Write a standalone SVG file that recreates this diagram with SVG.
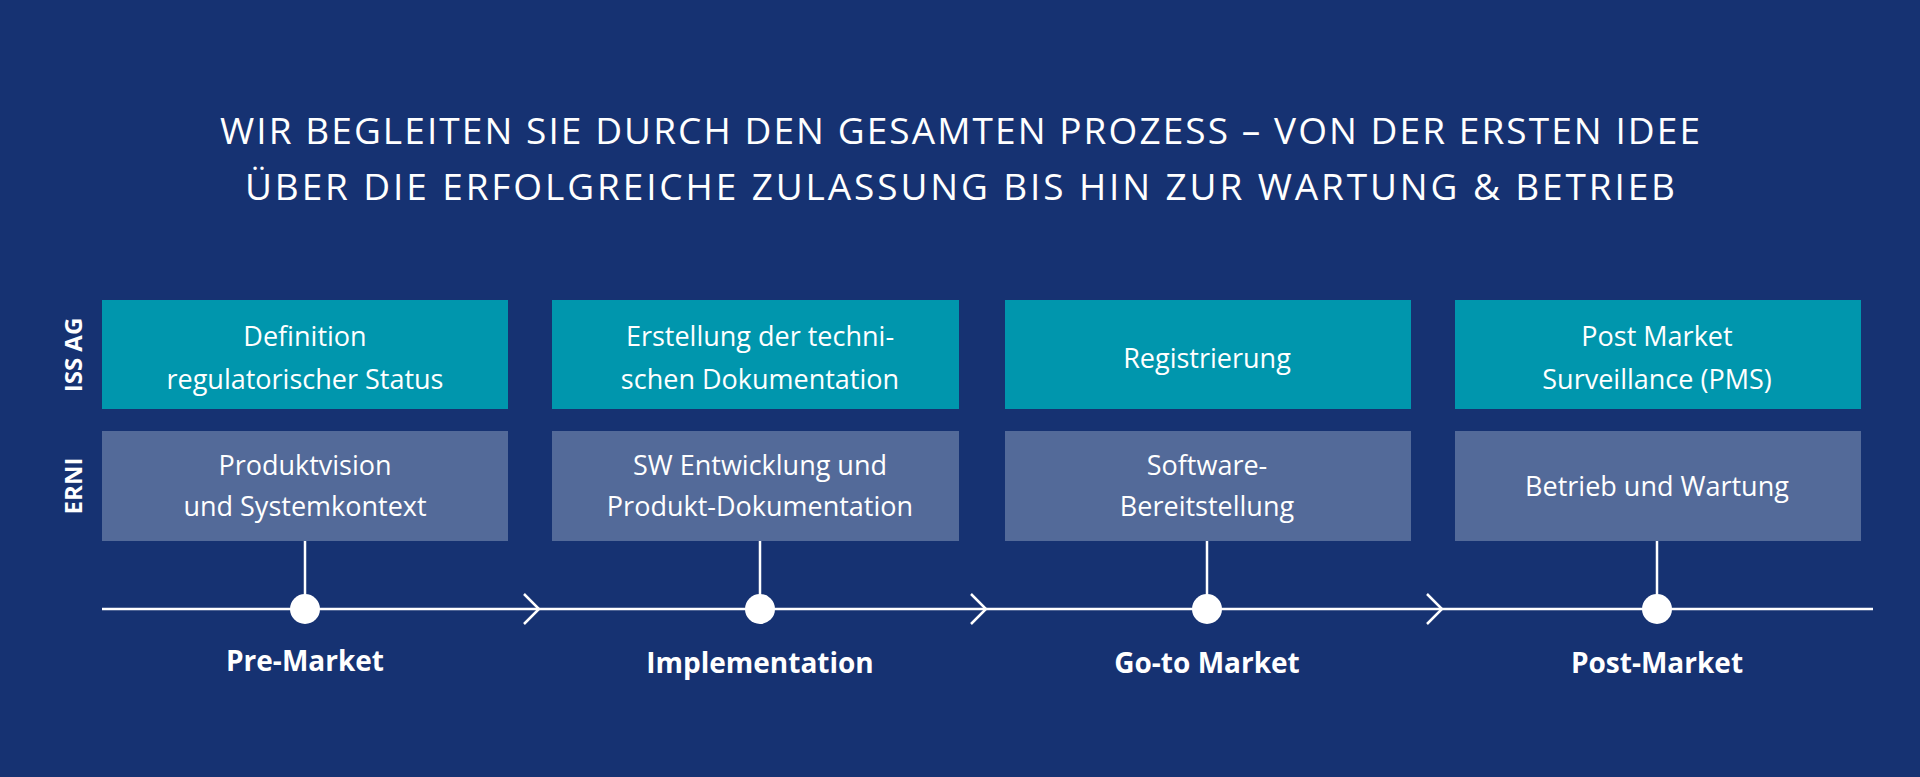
<svg xmlns="http://www.w3.org/2000/svg" width="1920" height="777" viewBox="0 0 1920 777">
<style>
.t{font-family:"Source Sans Pro","Open Sans","Liberation Sans",sans-serif;fill:#fff}
.title{font-size:37px;font-weight:400}
.bx{font-size:27px;text-anchor:middle}
.ph{font-size:28px;font-weight:700;text-anchor:middle}
.side{font-size:24px;font-weight:700;text-anchor:middle}
.top{fill:#0096ad}.bot{fill:#536a99}
.ln{stroke:#fff;stroke-width:2.5;fill:none}
</style>
<rect width="1920" height="777" fill="#163272"/>
<g id="title">
<text class="t title" x="960" y="144" text-anchor="middle" textLength="1480">WIR BEGLEITEN SIE DURCH DEN GESAMTEN PROZESS – VON DER ERSTEN IDEE</text>
<text class="t title" x="960" y="200" text-anchor="middle" textLength="1430">ÜBER DIE ERFOLGREICHE ZULASSUNG BIS HIN ZUR WARTUNG &amp; BETRIEB</text>
</g>
<g id="side-labels">
<text class="t side" transform="translate(82,355) rotate(-90)">ISS AG</text>
<text class="t side" transform="translate(82,486) rotate(-90)">ERNI</text>
</g>
<g id="connectors">
<line class="ln" x1="102" y1="609" x2="1873" y2="609"/>
<polyline class="ln" points="524,594 539,609 524,624"/>
<polyline class="ln" points="971,594 986,609 971,624"/>
<polyline class="ln" points="1427,594 1442,609 1427,624"/>
<line class="ln" x1="305" y1="541" x2="305" y2="609"/>
<line class="ln" x1="760" y1="541" x2="760" y2="609"/>
<line class="ln" x1="1207" y1="541" x2="1207" y2="609"/>
<line class="ln" x1="1657" y1="541" x2="1657" y2="609"/>
<circle cx="305" cy="609" r="15" fill="#fff"/>
<circle cx="760" cy="609" r="15" fill="#fff"/>
<circle cx="1207" cy="609" r="15" fill="#fff"/>
<circle cx="1657" cy="609" r="15" fill="#fff"/>
</g>
<g id="iss1"><rect class="top" x="102" y="300" width="406" height="109"/>
<text class="t bx" x="305" y="346">Definition</text><text class="t bx" x="305" y="389">regulatorischer Status</text></g>
<g id="iss2"><rect class="top" x="552" y="300" width="407" height="109"/>
<text class="t bx" x="760" y="346">Erstellung der techni-</text><text class="t bx" x="760" y="389">schen Dokumentation</text></g>
<g id="iss3"><rect class="top" x="1005" y="300" width="406" height="109"/>
<text class="t bx" x="1207" y="368">Registrierung</text></g>
<g id="iss4"><rect class="top" x="1455" y="300" width="406" height="109"/>
<text class="t bx" x="1657" y="346">Post Market</text><text class="t bx" x="1657" y="389">Surveillance (PMS)</text></g>
<g id="erni1"><rect class="bot" x="102" y="431" width="406" height="110"/>
<text class="t bx" x="305" y="475">Produktvision</text><text class="t bx" x="305" y="516">und Systemkontext</text></g>
<g id="erni2"><rect class="bot" x="552" y="431" width="407" height="110"/>
<text class="t bx" x="760" y="475">SW Entwicklung und</text><text class="t bx" x="760" y="516">Produkt-Dokumentation</text></g>
<g id="erni3"><rect class="bot" x="1005" y="431" width="406" height="110"/>
<text class="t bx" x="1207" y="475">Software-</text><text class="t bx" x="1207" y="516">Bereitstellung</text></g>
<g id="erni4"><rect class="bot" x="1455" y="431" width="406" height="110"/>
<text class="t bx" x="1657" y="496">Betrieb und Wartung</text></g>
<g id="phases">
<text class="t ph" x="305" y="671">Pre-Market</text>
<text class="t ph" x="760" y="673">Implementation</text>
<text class="t ph" x="1207" y="673">Go-to Market</text>
<text class="t ph" x="1657" y="673">Post-Market</text>
</g>
</svg>
